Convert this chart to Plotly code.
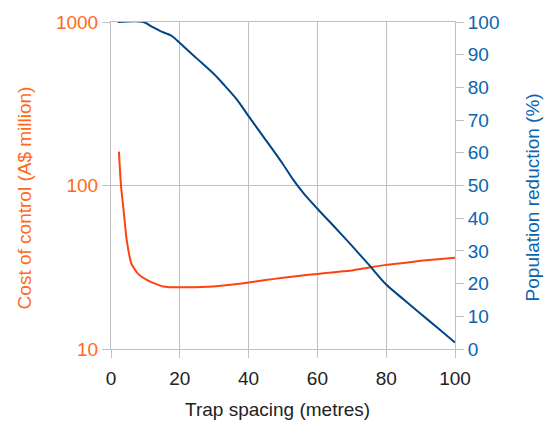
import plotly.graph_objects as go

# Trap spacing (metres) for the cost curve
spacing_cost = [2.3, 2.9, 3.6, 4.6, 6.0, 7.9, 10.8, 13, 15.2, 17, 20, 24, 28, 32, 36, 40, 45, 50, 55, 60, 65, 70, 75, 80, 85, 90, 95, 100]
# Cost of control (A$ million)
cost = [161, 100, 72.8, 45.8, 33.0, 28.8, 26.2, 25.0, 24.1, 23.9, 23.9, 23.9, 24.0, 24.4, 24.9, 25.5, 26.4, 27.3, 28.1, 28.8, 29.5, 30.2, 31.5, 32.7, 33.6, 34.6, 35.4, 36.2]

# Trap spacing (metres) for the population curve
spacing_pop = [2, 9.4, 12, 14.2, 16, 17.6, 20, 25, 30, 33, 36.5, 40, 45, 50, 53, 56, 60, 65, 70, 75, 80, 85, 90, 95, 100]
# Population reduction (%)
reduction = [100, 100, 98.5, 97.3, 96.5, 95.8, 93.6, 88.8, 84.0, 80.6, 76.4, 71.2, 63.9, 56.5, 51.7, 47.6, 42.9, 37.3, 31.6, 25.7, 19.7, 15.2, 10.8, 6.4, 2.0]

x_ticks = [0, 20, 40, 60, 80, 100]
cost_ticks = [10, 100, 1000]
pop_ticks = list(range(0, 101, 10))

ORANGE_LINE = "#ff420e"
BLUE_LINE = "#004586"
ORANGE_TEXT = "#ff6a1a"
BLUE_TEXT = "#0a64b0"
GRID = "#c0c0c0"
FONT = "Liberation Sans, Arial, sans-serif"

fig = go.Figure()
fig.add_trace(go.Scatter(x=spacing_cost, y=cost, mode="lines",
                         line=dict(color=ORANGE_LINE, width=2, shape="spline", smoothing=0.5),
                         yaxis="y", showlegend=False, hoverinfo="skip"))
fig.add_trace(go.Scatter(x=spacing_pop, y=reduction, mode="lines",
                         line=dict(color=BLUE_LINE, width=2, shape="spline", smoothing=0.8),
                         yaxis="y2", showlegend=False, hoverinfo="skip"))

fig.update_layout(
    width=549, height=423,
    margin=dict(l=111, r=94, t=19, b=74),
    paper_bgcolor="white", plot_bgcolor="white",
    font=dict(family=FONT, size=19, color="#222222"),
    xaxis=dict(range=[0, 100], tickvals=x_ticks, showgrid=True, gridcolor=GRID, gridwidth=1,
               ticks="outside", ticklen=8, tickcolor=GRID, showline=True, linecolor=GRID,
               mirror=True, zeroline=False, ticklabelstandoff=4,
               tickfont=dict(color="#222222", size=19)),
    yaxis=dict(type="log", range=[1, 3], tickvals=cost_ticks, ticktext=[str(v) for v in cost_ticks],
               showgrid=True, gridcolor=GRID, gridwidth=1, ticks="outside", ticklen=8,
               tickcolor=GRID, showline=True, linecolor=GRID, mirror=True, zeroline=False,
               tickfont=dict(color=ORANGE_TEXT, size=19)),
    yaxis2=dict(range=[0, 100], tickvals=pop_ticks, overlaying="y", side="right",
                showgrid=False, ticks="outside", ticklen=8, tickcolor=GRID, showline=False,
                zeroline=False, tickfont=dict(color=BLUE_TEXT, size=19)),
    annotations=[
        dict(text="Trap spacing (metres)", xref="paper", yref="paper", x=(277 - 111) / 344,
             y=(349 - 410) / 330, xanchor="center", yanchor="middle", showarrow=False,
             font=dict(size=19, color="#222222")),
        dict(text="Cost of control (A$ million)", xref="paper", yref="paper", x=(24 - 111) / 344,
             y=(349 - 197) / 330, xanchor="center", yanchor="middle", showarrow=False,
             textangle=-90, font=dict(size=19, color=ORANGE_TEXT)),
        dict(text="Population reduction (%)", xref="paper", yref="paper", x=(532 - 111) / 344,
             y=(349 - 196) / 330, xanchor="center", yanchor="middle", showarrow=False,
             textangle=-90, font=dict(size=19, color=BLUE_TEXT)),
    ],
)

fig.write_html("out.html", config={"displayModeBar": False},
               post_script="document.body.style.margin='0';document.body.style.overflow='hidden';")
